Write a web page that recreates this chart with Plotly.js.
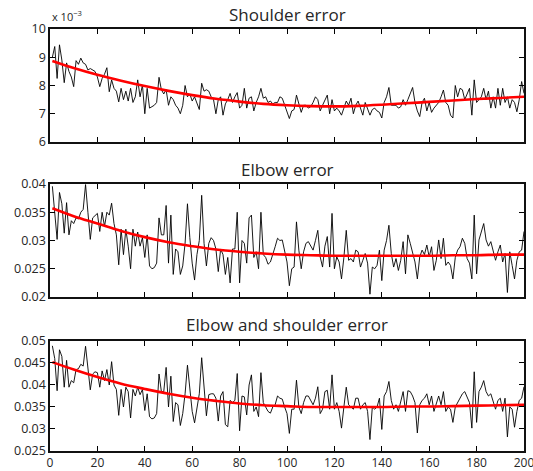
<!DOCTYPE html>
<html><head><meta charset="utf-8">
<script src="https://cdn.plot.ly/plotly-3.0.1.min.js"></script>
<style>html,body{margin:0;padding:0;background:#fff}#plot{width:533px;height:471px}</style>
</head><body><div id="plot"></div>
<script>
// x positions 1..200 (iteration index)
const iterations = Array.from({length: 200}, (_, i) => i + 1);

// Shoulder error, in units of 1e-3
const shoulderErr = [
9.0,9.38,8.25,9.44,8.9,8.1,8.8,8.5,8.3,7.96,
8.88,8.75,8.97,8.8,8.75,8.55,8.6,8.55,8.5,8.3,
7.96,8.25,8.4,8.63,7.78,8.2,7.9,7.8,7.42,7.9,
7.5,7.8,7.45,7.9,7.4,7.6,8.2,7.6,8.02,7.0,
7.9,7.2,7.25,7.3,7.4,8.29,7.85,7.7,7.85,7.3,
7.6,7.5,7.3,7.2,7.0,7.3,8.0,7.6,7.7,7.45,
7.6,7.4,7.15,8.08,7.8,7.85,7.8,7.6,7.5,7.0,
7.5,7.6,6.95,7.35,7.5,7.72,7.4,7.6,7.75,7.2,
7.3,7.9,7.2,7.55,7.6,7.1,7.4,7.6,7.9,7.55,
7.6,7.4,7.45,7.35,7.4,7.4,7.6,7.55,7.3,7.1,
6.83,7.1,7.15,7.66,7.3,7.05,7.3,7.3,7.2,7.25,
7.4,7.6,7.5,7.1,7.3,7.5,7.66,7.0,7.5,7.1,
7.2,7.1,6.95,7.2,7.45,7.3,7.55,7.0,7.3,7.45,
7.2,6.95,7.4,7.2,6.95,7.15,7.2,7.1,7.05,6.85,
7.4,7.6,7.93,7.3,7.3,7.3,7.2,7.25,7.5,7.3,
7.5,7.7,7.93,7.4,7.1,6.9,7.4,7.55,7.1,7.4,
7.05,7.2,7.3,7.4,7.6,7.84,7.4,7.3,6.95,6.85,
8.0,7.6,7.9,7.85,7.5,7.7,7.9,6.95,8.2,7.4,
7.5,7.6,7.9,7.5,7.8,7.2,7.6,7.2,7.9,7.3,
7.9,7.4,7.6,7.2,7.5,7.4,7.07,7.5,8.14,7.72
];

const elbowErr = [
0.0396,0.0350,0.0302,0.0385,0.0365,0.0313,0.0367,0.0310,0.0335,0.0330,
0.0340,0.0338,0.0350,0.0355,0.0399,0.0350,0.0302,0.0340,0.0345,0.0348,
0.0316,0.0350,0.0325,0.0350,0.0345,0.0366,0.0330,0.0310,0.0257,0.0320,
0.0275,0.0320,0.0290,0.0250,0.0320,0.0290,0.0315,0.0290,0.0305,0.0270,
0.0310,0.0255,0.0250,0.0252,0.0260,0.0340,0.0310,0.0310,0.0362,0.0260,
0.0345,0.0240,0.0285,0.0280,0.0240,0.0255,0.0295,0.0365,0.0305,0.0260,
0.0230,0.0275,0.0300,0.0380,0.0295,0.0255,0.0295,0.0305,0.0300,0.0285,
0.0245,0.0285,0.0275,0.0240,0.0270,0.0225,0.0285,0.0285,0.0350,0.0225,
0.0300,0.0295,0.0260,0.0340,0.0345,0.0270,0.0280,0.0250,0.0350,0.0275,
0.0270,0.0258,0.0262,0.0278,0.0289,0.0304,0.0300,0.0301,0.0283,0.0262,
0.0220,0.0250,0.0253,0.0333,0.0283,0.0250,0.0280,0.0295,0.0298,0.0290,
0.0283,0.0300,0.0318,0.0271,0.0253,0.0290,0.0307,0.0253,0.0348,0.0250,
0.0271,0.0262,0.0232,0.0270,0.0318,0.0265,0.0268,0.0262,0.0283,0.0280,
0.0253,0.0265,0.0277,0.0260,0.0205,0.0253,0.0250,0.0256,0.0283,0.0229,
0.0283,0.0300,0.0327,0.0277,0.0253,0.0268,0.0247,0.0265,0.0298,0.0241,
0.0310,0.0295,0.0280,0.0262,0.0232,0.0271,0.0283,0.0275,0.0292,0.0271,
0.0289,0.0247,0.0265,0.0301,0.0268,0.0304,0.0256,0.0262,0.0256,0.0232,
0.0270,0.0283,0.0289,0.0304,0.0295,0.0268,0.0260,0.0232,0.0345,0.0241,
0.0301,0.0315,0.0330,0.0301,0.0290,0.0298,0.0283,0.0265,0.0280,0.0292,
0.0262,0.0277,0.0208,0.0280,0.0256,0.0232,0.0265,0.0280,0.0283,0.0316
];

const bothErr = [
0.0489,0.0460,0.0387,0.0480,0.0465,0.0395,0.0456,0.0395,0.0410,0.0405,
0.0435,0.0437,0.0447,0.0443,0.0488,0.0430,0.0389,0.0425,0.0430,0.0428,
0.0395,0.0432,0.0410,0.0435,0.0400,0.0453,0.0400,0.0390,0.0331,0.0390,
0.0350,0.0395,0.0385,0.0325,0.0390,0.0375,0.0395,0.0378,0.0390,0.0342,
0.0380,0.0328,0.0323,0.0325,0.0335,0.0425,0.0385,0.0385,0.0440,0.0350,
0.0420,0.0317,0.0360,0.0355,0.0308,0.0335,0.0380,0.0445,0.0390,0.0340,
0.0314,0.0345,0.0380,0.0462,0.0385,0.0330,0.0378,0.0380,0.0380,0.0370,
0.0318,0.0375,0.0385,0.0310,0.0305,0.0365,0.0360,0.0365,0.0426,0.0296,
0.0375,0.0373,0.0332,0.0400,0.0423,0.0340,0.0350,0.0328,0.0428,0.0360,
0.0350,0.0340,0.0336,0.0350,0.0355,0.0375,0.0370,0.0368,0.0350,0.0335,
0.0290,0.0345,0.0345,0.0411,0.0350,0.0335,0.0360,0.0375,0.0375,0.0365,
0.0355,0.0370,0.0396,0.0335,0.0345,0.0385,0.0388,0.0345,0.0423,0.0345,
0.0360,0.0340,0.0302,0.0350,0.0395,0.0355,0.0350,0.0345,0.0370,0.0370,
0.0345,0.0355,0.0360,0.0340,0.0276,0.0350,0.0345,0.0350,0.0370,0.0299,
0.0375,0.0385,0.0408,0.0365,0.0345,0.0355,0.0340,0.0360,0.0385,0.0340,
0.0387,0.0385,0.0375,0.0360,0.0291,0.0355,0.0365,0.0370,0.0380,0.0355,
0.0375,0.0340,0.0355,0.0375,0.0355,0.0385,0.0340,0.0350,0.0345,0.0315,
0.0350,0.0360,0.0370,0.0380,0.0385,0.0370,0.0360,0.0302,0.0430,0.0315,
0.0385,0.0395,0.0410,0.0385,0.0375,0.0380,0.0360,0.0345,0.0365,0.0370,
0.0340,0.0370,0.0282,0.0350,0.0345,0.0304,0.0340,0.0365,0.0370,0.0396
];

// Smooth fitted trends (red)
const fitX = [1,10,20,30,40,50,60,70,80,90,100,110,120,130,140,150,160,170,180,190,200];
const shoulderFit = [8.87,8.62,8.38,8.17,7.98,7.81,7.66,7.53,7.43,7.35,7.30,7.27,7.26,7.28,7.32,7.37,7.42,7.47,7.52,7.56,7.60];
const elbowFit = [0.0357,0.0343,0.0330,0.0317,0.0306,0.0297,0.0290,0.0284,0.0280,0.0277,0.0275,0.0274,0.0273,0.0273,0.0273,0.0273,0.0273,0.0274,0.0274,0.0275,0.0275];
const bothFit = [0.0452,0.0435,0.0418,0.0403,0.0391,0.0380,0.0371,0.0364,0.0358,0.0354,0.0352,0.0350,0.0350,0.0350,0.0350,0.0351,0.0351,0.0352,0.0353,0.0354,0.0355];

const titles = ["Shoulder error", "Elbow error", "Elbow and shoulder error"];
const xTicks = [0,20,40,60,80,100,120,140,160,180,200];
const yTicksTop = [6,7,8,9,10];
const yTicksMid = [0.02,0.025,0.03,0.035,0.04];
const yTicksMidText = ["0.02","0.025","0.03","0.035","0.04"];
const yTicksBot = [0.025,0.03,0.035,0.04,0.045,0.05];
const yTicksBotText = ["0.025","0.03","0.035","0.04","0.045","0.05"];

const FONT = "Open Sans, Liberation Sans, sans-serif";
const TXT = '#262626';
const series = [shoulderErr, elbowErr, bothErr];
const fits = [shoulderFit, elbowFit, bothFit];
const data = [];
for (let i = 0; i < 3; i++) {
  const xa = i === 0 ? 'x' : 'x' + (i + 1);
  const ya = i === 0 ? 'y' : 'y' + (i + 1);
  data.push({x: iterations, y: series[i], type: 'scatter', mode: 'lines',
    line: {color: '#000', width: 0.9}, xaxis: xa, yaxis: ya, hoverinfo: 'skip'});
  data.push({x: fitX, y: fits[i], type: 'scatter', mode: 'lines',
    line: {color: '#ff0000', width: 2.6, shape: 'spline'}, xaxis: xa, yaxis: ya, hoverinfo: 'skip'});
}

function xax(showLabels) {
  return {range: [0, 200], tickvals: xTicks, showticklabels: showLabels, ticks: 'inside', ticklen: 5,
    tickcolor: '#000', tickwidth: 1, showline: true, linecolor: '#111', linewidth: 1.6, mirror: 'ticks',
    showgrid: false, zeroline: false, ticklabeloverflow: 'allow',
    tickfont: {family: FONT, size: 12, color: TXT}};
}
function yax(range, vals, text, domain) {
  return {range: range, tickvals: vals, ticktext: text, domain: domain, ticks: 'inside', ticklen: 5,
    tickcolor: '#000', tickwidth: 1, showline: true, linecolor: '#111', linewidth: 1.6, mirror: 'ticks',
    showgrid: false, zeroline: false, ticklabeloverflow: 'allow',
    tickfont: {family: FONT, size: 12.5, color: TXT}};
}

const layout = {
  width: 533, height: 471,
  margin: {l: 50, r: 9, t: 29, b: 20},
  paper_bgcolor: '#fff', plot_bgcolor: '#fff',
  showlegend: false,
  xaxis: Object.assign(xax(false), {anchor: 'y'}),
  xaxis2: Object.assign(xax(false), {anchor: 'y2'}),
  xaxis3: Object.assign(xax(true), {anchor: 'y3'}),
  yaxis: Object.assign(yax([6, 10], yTicksTop, yTicksTop.map(String), [0.7322, 1]), {anchor: 'x'}),
  yaxis2: Object.assign(yax([0.02, 0.04], yTicksMid, yTicksMidText, [0.3649, 0.6327]), {anchor: 'x2'}),
  yaxis3: Object.assign(yax([0.025, 0.05], yTicksBot, yTicksBotText, [0, 0.2607]), {anchor: 'x3'}),
  annotations: [
    {text: titles[0], x: 0.5, y: 1.0332, xref: 'paper', yref: 'paper', showarrow: false, xanchor: 'center', yanchor: 'middle', font: {family: FONT, size: 17, color: TXT}},
    {text: titles[1], x: 0.5, y: 0.6659, xref: 'paper', yref: 'paper', showarrow: false, xanchor: 'center', yanchor: 'middle', font: {family: FONT, size: 17, color: TXT}},
    {text: titles[2], x: 0.5, y: 0.2986, xref: 'paper', yref: 'paper', showarrow: false, xanchor: 'center', yanchor: 'middle', font: {family: FONT, size: 17, color: TXT}},
    {text: 'x 10<sup>\u22123</sup>', x: 0, y: 1.0075, xref: 'paper', yref: 'paper', showarrow: false, xanchor: 'left', yanchor: 'bottom', font: {family: FONT, size: 11, color: TXT}}
  ]
};
Plotly.newPlot('plot', data, layout, {staticPlot: true, displayModeBar: false});
</script>
</body></html>
